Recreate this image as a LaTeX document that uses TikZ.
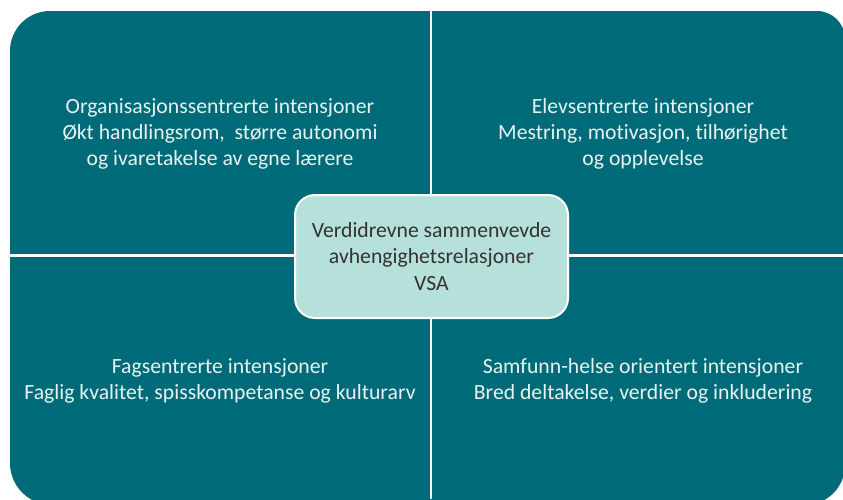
\documentclass[tikz,border=0pt]{standalone}
\usepackage{fontspec}
\setmainfont{Carlito}[Ligatures=NoCommon]
\usepackage{xcolor}
\usepackage{tikz}
\usetikzlibrary{positioning}
\definecolor{vsateal}{RGB}{0,107,120}
\definecolor{vsamint}{RGB}{182,224,218}
\definecolor{vsalight}{RGB}{232,242,242}
\definecolor{vsadark}{RGB}{51,51,51}

\begin{document}
\begin{tikzpicture}[x=1pt,y=-1pt,
    quadtext/.style={align=center,text=vsalight,font=\fontsize{21.7}{26}\selectfont},
    vsabox/.style={draw=white,line width=2pt,fill=vsamint,rounded corners=20pt,
        minimum width=273pt,minimum height=123pt,align=center,text=vsadark,
        font=\fontsize{21.7}{26.5}\selectfont}]
    \useasboundingbox (0,0) rectangle (843,499);
    \begin{scope}
    \clip (0,0) rectangle (843,499);
    % background with four rounded outer corners
    \fill[vsateal] (10,51) arc[start angle=180,end angle=270,radius=40]
        -- (817,11) arc[start angle=270,end angle=360,radius=28]
        -- (845,465) arc[start angle=0,end angle=90,radius=40]
        -- (52,505) arc[start angle=90,end angle=180,radius=42] -- cycle;
    % dividers
    \coordinate (top) at (431,0);
    \coordinate (bottom) at (431,499);
    \coordinate (left) at (0,255.5);
    \coordinate (right) at (843,255.5);
    \draw[white,line width=2.3pt] (top) -- (bottom);
    \draw[white,line width=2.3pt] (left) -- (right);
    \end{scope}
    \node[quadtext] (org) at (220,134) {Organisasjonssentrerte intensjoner\\
        Økt handlingsrom,\ \ større autonomi\\og ivaretakelse av egne lærere};
    \node[quadtext] (elev) at (643,134) {Elevsentrerte intensjoner\\
        Mestring, motivasjon, tilhørighet\\og opplevelse};
    \node[quadtext] (fag) at (220,381) {Fagsentrerte intensjoner\\
        Faglig kvalitet, spisskompetanse og kulturarv};
    \node[quadtext] (samf) at (643,381) {Samfunn-helse orientert intensjoner\\
        Bred deltakelse, verdier og inkludering};
    \node[vsabox] (vsa) at (431.5,256.5) {Verdidrevne sammenvevde\\
        avhengighetsrelasjoner\\VSA};
\end{tikzpicture}
\end{document}
